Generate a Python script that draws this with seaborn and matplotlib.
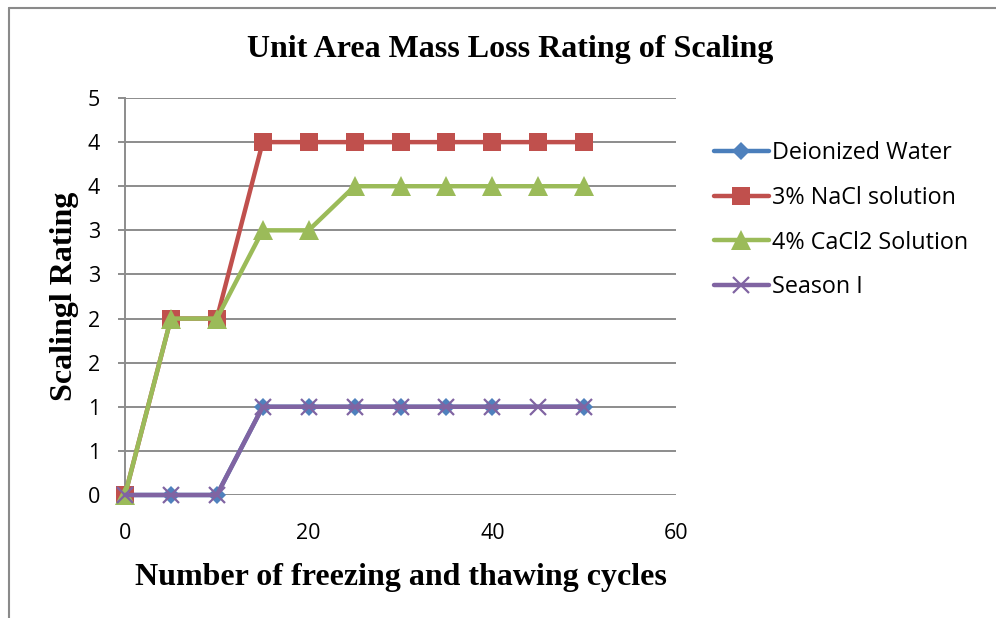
import numpy as np
import pandas as pd
import matplotlib
matplotlib.use("Agg")
import matplotlib.pyplot as plt
from matplotlib.lines import Line2D
import seaborn as sns

# Freeze-thaw cycles and scaling ratings for each exposure condition
cycles = [0, 5, 10, 15, 20, 25, 30, 35, 40, 45, 50]
deionized_cycles = [0, 5, 10, 15, 20, 25, 30, 35, 40, 50]
deionized_water = [0, 0, 0, 1, 1, 1, 1, 1, 1, 1]
nacl_3pct = [0, 2, 2, 4, 4, 4, 4, 4, 4, 4, 4]
cacl2_4pct = [0, 2, 2, 3, 3, 3.5, 3.5, 3.5, 3.5, 3.5, 3.5]
season_1 = [0, 0, 0, 1, 1, 1, 1, 1, 1, 1, 1]

series_names = ["Deionized Water", "3% NaCl solution", "4% CaCl2 Solution", "Season I"]
y_ticks = [0, 0.5, 1, 1.5, 2, 2.5, 3, 3.5, 4, 4.5]
y_tick_labels = ["0", "1", "1", "2", "2", "3", "3", "4", "4", "5"]
x_ticks = [0, 20, 40, 60]

sns.set_theme(style="white")
plt.rcParams["font.family"] = ["Open Sans", "DejaVu Sans"]
plt.rcParams["text.color"] = "black"
plt.rcParams["axes.labelcolor"] = "black"

fig = plt.figure(figsize=(9.96, 6.18), dpi=100)
ax = fig.add_axes([125 / 996, 1 - 495 / 618, (676 - 125) / 996, (495 - 98) / 618])

styles = [
    dict(x=deionized_cycles, y=deionized_water, color="#4A7EBB", marker="D",
         markersize=9.5, mfc="#4F81BD", mec="#4F81BD", mew=0),
    dict(x=cycles, y=nacl_3pct, color="#C0504D", marker="s",
         markersize=13, mfc="#C0504D", mec="#C0504D", mew=0),
    dict(x=cycles, y=cacl2_4pct, color="#9BBB59", marker="^",
         markersize=14, mfc="#9BBB59", mec="#9BBB59", mew=0),
    dict(x=cycles, y=season_1, color="#8064A2", marker="x",
         markersize=11, mfc="#8064A2", mec="#8064A2", mew=1.6),
]

for name, st in zip(series_names, styles):
    sns.lineplot(x=st["x"], y=st["y"], ax=ax, color=st["color"], linewidth=3.2,
                 marker=st["marker"], markersize=st["markersize"],
                 markerfacecolor=st["mfc"], markeredgecolor=st["mec"],
                 markeredgewidth=st["mew"], label=name, clip_on=False,
                 zorder=3)

ax.set_xlim(0, 60)
ax.set_ylim(0, 4.5)
ax.set_xticks(x_ticks)
ax.set_xticklabels([str(v) for v in x_ticks])
ax.set_yticks(y_ticks)
ax.set_yticklabels(y_tick_labels)

grid_color = "#8C8C8C"
ax.yaxis.grid(True, color=grid_color, linewidth=1.4)
ax.xaxis.grid(False)
ax.set_axisbelow(True)
for side in ["top", "right", "bottom"]:
    ax.spines[side].set_visible(False)
ax.spines["left"].set_color(grid_color)
ax.spines["left"].set_linewidth(1.4)
ax.tick_params(axis="y", which="major", left=True, length=5, width=1.4,
               color=grid_color, pad=13, labelsize=15.5, labelcolor="black")
ax.tick_params(axis="x", which="major", bottom=False, pad=14, labelsize=15.5,
               labelcolor="black")

serif = ["Liberation Serif", "DejaVu Serif"]
ax.set_xlabel("Number of freezing and thawing cycles", fontsize=23,
              fontweight="bold", family=serif, labelpad=13.5, color="black")
ax.set_ylabel("Scalingl Rating", fontsize=23, fontweight="bold",
              family=serif, labelpad=6.5, color="black")
fig.text(510 / 996, 1 - 50 / 618, "Unit Area Mass Loss Rating of Scaling",
         ha="center", va="center", fontsize=23, fontweight="bold",
         family=serif, color="black")

leg = ax.legend(loc="upper left", bbox_to_anchor=(714 / 996, 1 - 141 / 618),
                bbox_transform=fig.transFigure, frameon=False, fontsize=16.8,
                handlelength=2.35, handletextpad=0.15, labelspacing=0.89,
                borderaxespad=0, borderpad=0)
for h in leg.legend_handles:
    h.set_markevery([1])

# outer chart-area frame
frame_color = "#8A8A8A"
fig.add_artist(Line2D([9 / 996, 1.0], [1 - 8 / 618, 1 - 8 / 618],
                      transform=fig.transFigure, color=frame_color, lw=1.5))
fig.add_artist(Line2D([9 / 996, 9 / 996], [0, 1 - 8 / 618],
                      transform=fig.transFigure, color=frame_color, lw=1.5))

fig.savefig("out.png", dpi=100, facecolor="white")
